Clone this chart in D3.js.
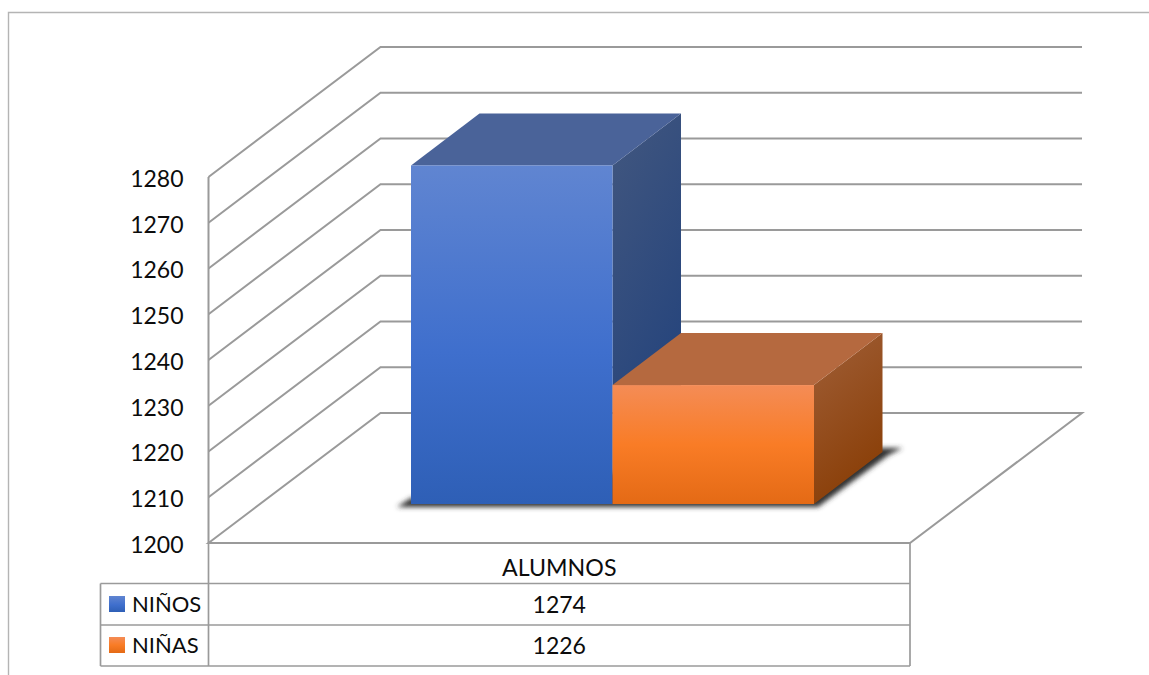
<!DOCTYPE html>
<html><head><meta charset="utf-8">
<script src="https://cdn.jsdelivr.net/npm/d3@7"></script>
<style>html,body{margin:0;padding:0;background:#fff}svg{display:block}text{font-family:Lato,"Open Sans",sans-serif;fill:#0c0c0c}</style>
</head><body><div id="c"></div>
<script>
const category = ["ALUMNOS"];
const seriesNames = ["NIÑOS","NIÑAS"];
const seriesValues = [1274,1226];
const tickValues = [1200,1210,1220,1230,1240,1250,1260,1270,1280];

const W=1149,H=675, FS=23;
const svg=d3.select("#c").append("svg").attr("width",W).attr("height",H);
const defs=svg.append("defs");
function grad(id,stops,x2,y2){
  const g=defs.append("linearGradient").attr("id",id).attr("x1",0).attr("y1",0).attr("x2",x2).attr("y2",y2);
  stops.forEach(s=>g.append("stop").attr("offset",s[0]).attr("stop-color",s[1]));
}
grad("fb",[[0,"#6085d1"],[.55,"#3f6fcd"],[1,"#2e5fb6"]],0,1);
grad("sb",[[0,"#42577f"],[1,"#22427c"]],.35,1);
grad("fo",[[0,"#f48c56"],[.5,"#f97c26"],[1,"#e46a15"]],0,1);
grad("so",[[0,"#a05f38"],[1,"#8a3f08"]],.35,1);
defs.append("filter").attr("id","blur").attr("x","-10%").attr("y","-30%").attr("width","120%").attr("height","160%")
  .append("feGaussianBlur").attr("stdDeviation",2.5);

const colors={front:["url(#fb)","url(#fo)"],side:["url(#sb)","url(#so)"],top:["#4a6399","#b5693f"],swatch:["url(#fb)","url(#fo)"]};

const y=d3.scaleLinear().domain([1200,1280]).range([543,177]);
const x=d3.scaleBand().domain(seriesNames).range([411,814]);
const cat=d3.scaleBand().domain(category).range([208.5,910]);
const wall={dx:172,dy:-130}, bar={dx:68.5,dy:-52}, barBase=504;
const valTop=v=>y(v)-(y(1200)-barBase);
const grid="#9a9a9a";

// outer frame
svg.append("path").attr("d",`M8.5,675V12.5H${W}`).attr("fill","none").attr("stroke","#b4b4b4").attr("stroke-width",1.4);

// gridlines
svg.append("g").selectAll("path").data(tickValues.slice(1)).join("path")
  .attr("d",v=>`M${cat.range()[0]},${y(v)}L${cat.range()[0]+wall.dx},${y(v)+wall.dy}H${cat.range()[1]+wall.dx}`)
  .attr("fill","none").attr("stroke",grid).attr("stroke-width",2);
// floor
const y0=y(1200), xl=cat.range()[0], xr=cat.range()[1];
svg.append("path").attr("d",`M${xl},${y0}L${xl+wall.dx},${y0+wall.dy}H${xr+wall.dx}L${xr},${y0}Z`)
  .attr("fill","none").attr("stroke",grid).attr("stroke-width",2);
// value axis
svg.append("line").attr("x1",xl).attr("x2",xl).attr("y1",y(1280)).attr("y2",y0).attr("stroke",grid).attr("stroke-width",2);
const axis=d3.axisLeft(y).tickValues(tickValues).tickSize(0).tickPadding(25).tickFormat(d3.format("d"));
const ax=svg.append("g").attr("transform",`translate(${xl},2)`).call(axis);
ax.select(".domain").remove();
ax.selectAll("text").style("font-size",FS+"px").attr("fill","#0c0c0c").style("font-family","Lato");

// shadow
const sx0=x(seriesNames[0]), sx1=x(seriesNames[1])+x.bandwidth();
svg.append("path").attr("filter","url(#blur)").attr("fill","#333")
  .attr("d",`M${sx0-14},${barBase+3}H${sx1+4}L${sx1+bar.dx+6},${barBase+bar.dy+3}L${sx1+bar.dx+20},${barBase+bar.dy-4}H${sx1}L${sx0},${barBase-6}Z`);

// bars: drawn back to front
const bars=svg.append("g").selectAll("g").data(seriesNames).join("g");
bars.append("path").attr("fill",(d,i)=>colors.side[i]).attr("d",(d,i)=>{
  const r=x(d)+x.bandwidth(), t=valTop(seriesValues[i]);
  return `M${r},${t}L${r+bar.dx},${t+bar.dy}V${barBase+bar.dy}L${r},${barBase}Z`;});
bars.append("path").attr("fill",(d,i)=>colors.top[i]).attr("d",(d,i)=>{
  const l=x(d), r=l+x.bandwidth(), t=valTop(seriesValues[i]);
  return `M${l},${t}L${l+bar.dx},${t+bar.dy}H${r+bar.dx}L${r},${t}Z`;});
bars.append("rect").attr("fill",(d,i)=>colors.front[i])
  .attr("x",d=>x(d)).attr("width",x.bandwidth())
  .attr("y",(d,i)=>valTop(seriesValues[i])).attr("height",(d,i)=>barBase-valTop(seriesValues[i]));

// data table
const tableLeft=100.5, rowTops=[583.5,625], rowBots=[625,666];
const t=svg.append("g").attr("stroke",grid).attr("stroke-width",1.7).attr("fill","none");
seriesNames.forEach((s,i)=>{
  t.append("line").attr("x1",tableLeft).attr("x2",xr).attr("y1",rowTops[i]).attr("y2",rowTops[i]);
  if(i==1) t.append("line").attr("x1",tableLeft).attr("x2",xr).attr("y1",rowBots[i]).attr("y2",rowBots[i]);
});
t.append("line").attr("x1",tableLeft).attr("x2",tableLeft).attr("y1",583.5).attr("y2",666);
t.append("line").attr("x1",xl).attr("x2",xl).attr("y1",y0).attr("y2",666);
t.append("line").attr("x1",xr).attr("x2",xr).attr("y1",y0).attr("y2",666);

svg.append("text").attr("x",cat(category[0])+cat.bandwidth()/2).attr("y",576).attr("text-anchor","middle").style("font-size",(FS+0.2)+"px").text(category[0]);
seriesNames.forEach((s,i)=>{
  const ty=[612,653][i];
  svg.append("rect").attr("x",109).attr("y",ty-16).attr("width",16).attr("height",16).attr("fill",colors.swatch[i]);
  svg.append("text").attr("x",132).attr("y",ty).style("font-size","22px").text(s);
  svg.append("text").attr("x",cat(category[0])+cat.bandwidth()/2).attr("y",ty+1).attr("text-anchor","middle").style("font-size",FS+"px").text(seriesValues[i]);
});
</script></body></html>
